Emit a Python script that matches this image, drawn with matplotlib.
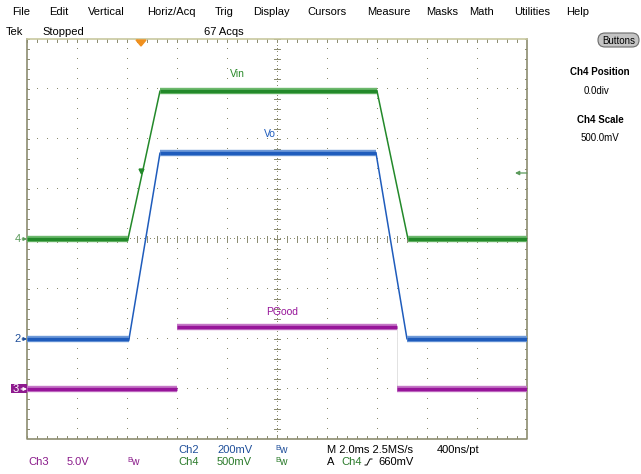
import numpy as np
import matplotlib
matplotlib.use("Agg")
import matplotlib.pyplot as plt
from matplotlib.patches import FancyBboxPatch, Rectangle

# ---------------- data ----------------
# time in ms from left edge of screen (2 ms/div, 10 div)
vin_t = [0.0, 4.04, 5.32, 14.0, 15.24, 20.0]
vin_v = [0.0, 0.0, 1.48, 1.48, 0.0, 0.0]          # volts, Ch4 500 mV/div
vo_t = [0.0, 4.08, 5.32, 13.96, 15.2, 20.0]
vo_v = [0.0, 0.0, 0.744, 0.744, 0.0, 0.0]         # volts, Ch2 200 mV/div
pg_t = [0.0, 6.0, 6.0, 14.8, 14.8, 20.0]
pg_v = [0.0, 0.0, 6.2, 6.2, 0.0, 0.0]              # volts, Ch3 5 V/div

ch_scale = {"Ch4": 0.5, "Ch2": 0.2, "Ch3": 5.0}
ch_offset = {"Ch4": 0.0, "Ch2": -2.0, "Ch3": -3.0}

menu_items = ["File", "Edit", "Vertical", "Horiz/Acq", "Trig", "Display",
              "Cursors", "Measure", "Masks", "Math", "Utilities", "Help"]
menu_x = [12, 49, 88, 147, 215, 253, 307, 367, 426, 469, 514, 566]

# ---------------- figure ----------------
W, H = 641, 474
fig = plt.figure(figsize=(W / 100, H / 100), dpi=100)
fig.patch.set_facecolor("white")
plt.rcParams["font.family"] = ["Liberation Sans", "DejaVu Sans"]

# graticule axes: x 27..527 px, y 39..439 px
gx0, gy0, gw, gh = 27, 39, 500, 400
ax = fig.add_axes([gx0 / W, 1 - (gy0 + gh) / H, gw / W, gh / H])
ax.set_xlim(0, 20)
ax.set_ylim(-4, 4)
ax.set_axis_off()

gcol = "#8a8a6e"
dx = 0.4  # ms per 10 px
dy = 0.2  # div per 10 px
xs_dots = np.arange(0, 20.0001, dx)
ys_dots = np.arange(-4, 4.0001, dy)
for k in range(1, 10):
    xk = k * 2.0
    ax.plot(np.full_like(ys_dots, xk), ys_dots, ",", color=gcol)
for k in range(-3, 4):
    ax.plot(xs_dots, np.full_like(xs_dots, k), ",", color=gcol)
# center lines and border ticks
for xv in xs_dots:
    ax.plot([xv, xv], [-0.06, 0.06], color=gcol, lw=0.7)
    ax.plot([xv, xv], [-4, -3.94], color=gcol, lw=0.7)
    ax.plot([xv, xv], [4, 3.94], color=gcol, lw=0.7)
for yv in ys_dots:
    ax.plot([9.88, 10.12], [yv, yv], color=gcol, lw=0.7)
    ax.plot([0, 0.08], [yv, yv], color=gcol, lw=0.7)
    ax.plot([20, 19.92], [yv, yv], color=gcol, lw=0.7)
fine_x = np.arange(0, 20.0001, dx / 3)
fine_y = np.arange(-4, 4.0001, dy / 3)
ax.plot(fine_x, np.zeros_like(fine_x), ",", color=gcol)
ax.plot(np.full_like(fine_y, 10.0), fine_y, ",", color=gcol)

# border
ax.plot([0, 0, 20, 20], [4, -4, -4, 4], color="#8c8c70", lw=1.2, clip_on=False)
ax.plot([0, 20], [4, 4], color="#c8c8a0", lw=1.2, clip_on=False)


def to_div(v, ch):
    return np.asarray(v) / ch_scale[ch] + ch_offset[ch]


def draw_trace(t, v, ch, col, fuzz, connect=True):
    t = np.asarray(t)
    y = to_div(v, ch)
    if connect:
        ax.plot(t, y, color=col, lw=1.1, solid_capstyle="butt", zorder=3)
    for i in range(len(t) - 1):
        if y[i] == y[i + 1] and t[i + 1] > t[i]:
            ax.plot([t[i], t[i + 1]], [y[i], y[i + 1]], color=fuzz, lw=4.6,
                    solid_capstyle="butt", zorder=3)
            ax.plot([t[i], t[i + 1]], [y[i], y[i + 1]], color=col, lw=2.4,
                    solid_capstyle="butt", zorder=4)


green, green_f = "#23892a", "#6db86d"
blue, blue_f = "#1f5cbc", "#6f9ad8"
purple, purple_f = "#97159a", "#c477c6"

draw_trace(vin_t, vin_v, "Ch4", green, green_f)
draw_trace(vo_t, vo_v, "Ch2", blue, blue_f)
draw_trace(pg_t, pg_v, "Ch3", purple, purple_f, connect=False)
# faint PGood falling edge
ax.plot([pg_t[3], pg_t[3]], to_div([0, 6.2], "Ch3"), color="#e2e2e2", lw=0.7, zorder=2)

# trace labels
ax.text(8.4, 3.3, "Vin", color="#2a8a2a", fontsize=7.5, ha="center", va="center")
ax.text(9.72, 2.1, "Vo", color="#1f5cbc", fontsize=7.5, ha="center", va="center")
ax.text(10.2, -1.46, "PGood", color="#97159a", fontsize=7.5, ha="center", va="center")

# trigger point marker on rising edge
ax.plot([4.56], [1.36], marker="v", color=green, markersize=3.5, zorder=5)

# ---------------- overlay (pixel coords) ----------------
ov = fig.add_axes([0, 0, 1, 1])
ov.set_xlim(0, W)
ov.set_ylim(H, 0)
ov.set_axis_off()
ov.patch.set_alpha(0)

fs = 8
for name, x in zip(menu_items, menu_x):
    ov.text(x, 12, name, fontsize=fs, ha="left", va="center", color="black")
ov.text(6, 32, "Tek", fontsize=fs, ha="left", va="center")
ov.text(42, 32, "Stopped", fontsize=fs, ha="left", va="center")
ov.text(204, 32, "67 Acqs", fontsize=fs, ha="left", va="center")

# orange trigger-position marker
ov.add_patch(plt.Polygon([[136, 40], [146, 40], [141, 46]], closed=True,
                         color="#f0901e", zorder=6))

# Buttons
ov.add_patch(FancyBboxPatch((598, 33), 41, 14, boxstyle="round,pad=0,rounding_size=7",
                            facecolor="#c4c4c4", edgecolor="#6a6a6a", lw=0.8))
ov.text(618.5, 40.5, "Buttons", fontsize=7, ha="center", va="center")

ov.text(600, 72, "Ch4 Position", fontsize=7, fontweight="bold", ha="center", va="center")
ov.text(597, 91, "0.0div", fontsize=7, ha="center", va="center")
ov.text(600, 120, "Ch4 Scale", fontsize=7, fontweight="bold", ha="center", va="center")
ov.text(600, 138, "500.0mV", fontsize=7, ha="center", va="center")

# channel ground markers
ov.text(18, 239, "4", color="#5a9a5a", fontsize=8, ha="center", va="center")
ov.annotate("", xy=(27, 239), xytext=(22, 239),
            arrowprops=dict(arrowstyle="-|>", color="#5a9a5a", lw=0.8,
                            mutation_scale=5, shrinkA=0, shrinkB=0))
ov.text(18, 339, "2", color="#1f4f9a", fontsize=8, ha="center", va="center")
ov.annotate("", xy=(27, 339), xytext=(22, 339),
            arrowprops=dict(arrowstyle="-|>", color="#1f4f9a", lw=0.8,
                            mutation_scale=5, shrinkA=0, shrinkB=0))
ov.add_patch(Rectangle((11, 384), 16, 9, facecolor="#8e1a8e", edgecolor="none"))
ov.text(16, 388.5, "3", color="white", fontsize=8, ha="center", va="center")
ov.annotate("", xy=(27, 389), xytext=(21, 389),
            arrowprops=dict(arrowstyle="-|>", color="white", lw=0.8,
                            mutation_scale=5, shrinkA=0, shrinkB=0))

# trigger level arrow on right
ov.annotate("", xy=(515, 173), xytext=(527, 173),
            arrowprops=dict(arrowstyle="-|>", color="#5a9a5a", lw=0.9,
                            mutation_scale=6, shrinkA=0, shrinkB=0))

# bottom status
c2, c4, c3 = "#1f4f9a", "#2a7a2a", "#8a1a8a"
def bw(x, y, col):
    ov.text(x, y - 1.5, "B", color=col, fontsize=5.5, ha="left", va="center")
    ov.text(x + 4.5, y, "w", color=col, fontsize=7.5, ha="left", va="center")

ov.text(178, 450, "Ch2", color=c2, fontsize=fs, ha="left", va="center")
ov.text(217, 450, "200mV", color=c2, fontsize=fs, ha="left", va="center")
bw(275, 450, c2)
ov.text(327, 450, "M 2.0ms 2.5MS/s", color="black", fontsize=fs, ha="left", va="center")
ov.text(437, 450, "400ns/pt", color="black", fontsize=fs, ha="left", va="center")

ov.text(28, 462, "Ch3", color=c3, fontsize=fs, ha="left", va="center")
ov.text(67, 462, "5.0V", color=c3, fontsize=fs, ha="left", va="center")
bw(127, 462, c3)
ov.text(178, 462, "Ch4", color=c4, fontsize=fs, ha="left", va="center")
ov.text(217, 462, "500mV", color=c4, fontsize=fs, ha="left", va="center")
bw(275, 462, c4)
ov.text(327, 462, "A", color="black", fontsize=fs, ha="left", va="center")
ov.text(341, 462, "Ch4", color=c4, fontsize=fs, ha="left", va="center")
ov.plot([365, 367, 370, 372], [465, 465, 459, 459], color="black", lw=0.7)
ov.text(378, 462, "660mV", color="black", fontsize=fs, ha="left", va="center")

fig.savefig("out.png", dpi=100, facecolor="white")
